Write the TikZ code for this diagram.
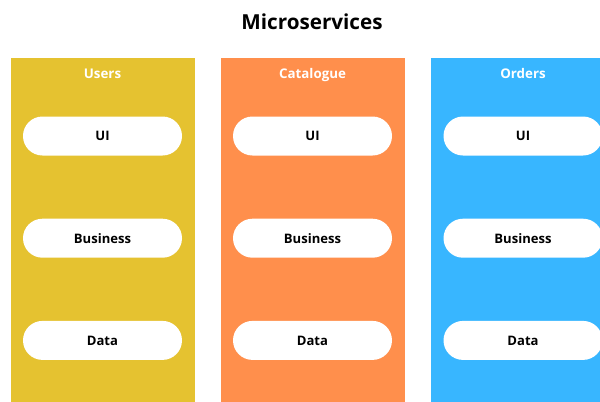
\documentclass[tikz,border=0pt]{standalone}
\usepackage{fontspec}
\setmainfont{Open Sans}
\usetikzlibrary{positioning}
\definecolor{usersYellow}{RGB}{229,194,48}
\definecolor{catalogueOrange}{RGB}{255,143,76}
\definecolor{ordersBlue}{RGB}{56,182,255}
\tikzset{
  serviceCol/.style={anchor=north, minimum width=138pt, minimum height=258pt,
    inner sep=0pt},
  colTitle/.style={text=white, text height=7.5pt, text depth=2.5pt,
    font=\bfseries\fontsize{10}{12}\selectfont},
  layerPill/.style={fill=white, rounded corners=14.6pt, minimum width=119.25pt,
    minimum height=29.25pt, inner sep=0pt,
    font=\bfseries\fontsize{9.8}{11}\selectfont}
}

\begin{document}
\begin{tikzpicture}[x=0.75pt,y=-0.75pt,node distance=47pt]

  \useasboundingbox (0,0) rectangle (600,401);

  \node [font=\bfseries\fontsize{15.5}{18}\selectfont] (title) at (312,22)
        {Microservices};

  % users
  \node [serviceCol, fill=usersYellow] (users) at (102.5,58) {};
  \node [colTitle] (usersTitle) at ([yshift=-12.5pt]users.north) {Users};
  \node [layerPill] (usersUI) at ([yshift=-58.5pt]users.north) {UI};
  \node [layerPill, below=of usersUI] (usersBusiness) {Business};
  \node [layerPill, below=of usersBusiness] (usersData) {Data};

  % catalogue
  \node [serviceCol, fill=catalogueOrange] (catalogue) at (312.5,58) {};
  \node [colTitle] (catalogueTitle) at ([yshift=-12.5pt]catalogue.north)
        {Catalogue};
  \node [layerPill] (catalogueUI) at ([yshift=-58.5pt]catalogue.north) {UI};
  \node [layerPill, below=of catalogueUI] (catalogueBusiness) {Business};
  \node [layerPill, below=of catalogueBusiness] (catalogueData) {Data};

  % orders
  \node [serviceCol, fill=ordersBlue] (orders) at (523,58) {};
  \node [colTitle] (ordersTitle) at ([yshift=-12.5pt]orders.north) {Orders};
  \node [layerPill] (ordersUI) at ([yshift=-58.5pt]orders.north) {UI};
  \node [layerPill, below=of ordersUI] (ordersBusiness) {Business};
  \node [layerPill, below=of ordersBusiness] (ordersData) {Data};

\end{tikzpicture}
\end{document}
